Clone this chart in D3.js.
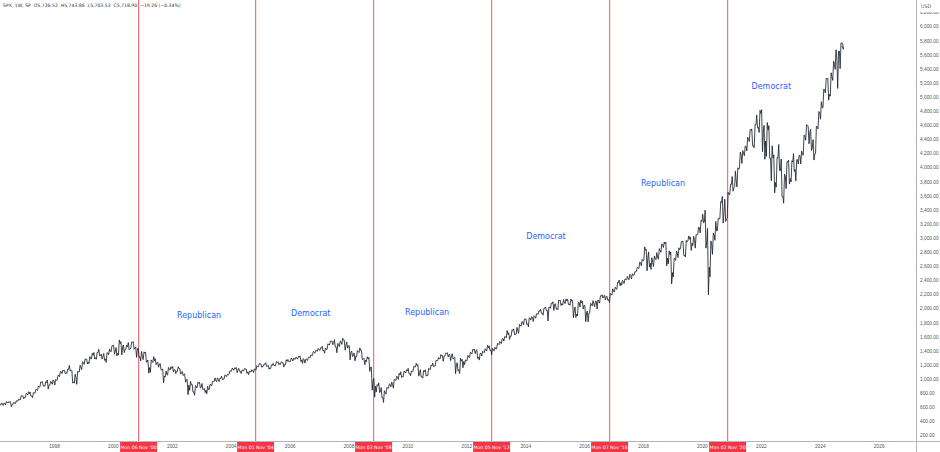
<!DOCTYPE html>
<html>
<head>
<meta charset="utf-8">
<script src="https://cdn.jsdelivr.net/npm/d3@7"></script>
<style>
  body { margin: 0; background: #fff; }
  svg { display: block; font-family: "DejaVu Sans", sans-serif; }
</style>
</head>
<body>
<svg width="940" height="452"></svg>
<script>
'use strict'

// monthly S&P 500 bars, Jan 1996 .. Oct 2024 (last one partial)
const firstMonth = '1996-01'
const firstOpen = 616
const closes = [
  636, 640, 645, 654, 669, 671, 640, 652, 687, 705, 757, 741,
  786, 791, 757, 801, 848, 885, 954, 899, 947, 915, 955, 970,
  980, 1049, 1102, 1112, 1091, 1134, 1121, 957, 1017, 1099, 1164, 1229,
  1280, 1238, 1286, 1335, 1302, 1373, 1329, 1320, 1283, 1363, 1389, 1469,
  1394, 1366, 1499, 1452, 1421, 1455, 1431, 1518, 1437, 1429, 1315, 1320,
  1366, 1240, 1160, 1249, 1256, 1224, 1211, 1134, 1041, 1060, 1139, 1148,
  1130, 1107, 1147, 1077, 1067, 990, 912, 916, 815, 886, 936, 880,
  856, 841, 848, 917, 964, 975, 990, 1008, 996, 1051, 1058, 1112,
  1131, 1145, 1126, 1107, 1121, 1141, 1102, 1104, 1115, 1130, 1174, 1212,
  1181, 1204, 1181, 1157, 1192, 1191, 1234, 1220, 1229, 1207, 1249, 1248,
  1280, 1281, 1295, 1311, 1270, 1270, 1277, 1304, 1336, 1378, 1401, 1418,
  1438, 1407, 1421, 1482, 1531, 1503, 1455, 1474, 1527, 1549, 1481, 1468,
  1379, 1331, 1323, 1386, 1400, 1280, 1267, 1283, 1165, 969, 896, 903,
  826, 735, 798, 873, 919, 919, 987, 1021, 1057, 1036, 1096, 1115,
  1074, 1104, 1169, 1187, 1089, 1031, 1102, 1049, 1141, 1183, 1181, 1258,
  1286, 1327, 1326, 1364, 1345, 1321, 1292, 1219, 1131, 1253, 1247, 1258,
  1312, 1366, 1408, 1398, 1310, 1362, 1379, 1407, 1441, 1412, 1416, 1426,
  1498, 1515, 1569, 1598, 1631, 1606, 1686, 1633, 1682, 1757, 1806, 1848,
  1783, 1859, 1872, 1884, 1924, 1960, 1931, 2003, 1972, 2018, 2068, 2059,
  1995, 2105, 2068, 2086, 2107, 2063, 2104, 1972, 1920, 2079, 2080, 2044,
  1940, 1932, 2060, 2065, 2097, 2099, 2174, 2171, 2168, 2126, 2199, 2239,
  2279, 2364, 2363, 2384, 2412, 2423, 2470, 2472, 2519, 2575, 2648, 2674,
  2824, 2714, 2641, 2648, 2705, 2718, 2816, 2902, 2914, 2712, 2760, 2507,
  2704, 2784, 2834, 2946, 2752, 2942, 2980, 2926, 2977, 3038, 3141, 3231,
  3226, 2954, 2585, 2912, 3044, 3100, 3271, 3500, 3363, 3270, 3622, 3756,
  3714, 3811, 3973, 4181, 4204, 4298, 4395, 4523, 4308, 4605, 4567, 4766,
  4516, 4374, 4530, 4132, 4132, 3785, 4130, 3955, 3586, 3872, 4080, 3840,
  4077, 3970, 4109, 4169, 4180, 4450, 4589, 4508, 4288, 4194, 4568, 4770,
  4846, 5096, 5254, 5036, 5278, 5460, 5522, 5648, 5762, 5719
]
const lows = [
  597, 631, 627, 624, 630, 658, 605, 640, 650, 684, 703, 716,
  737, 773, 756, 733, 798, 836, 884, 899, 896, 855, 912, 924,
  912, 980, 1032, 1076, 1074, 1077, 1112, 940, 939, 923, 1097, 1131,
  1205, 1212, 1216, 1282, 1281, 1279, 1325, 1281, 1263, 1233, 1343, 1387,
  1350, 1326, 1339, 1339, 1373, 1421, 1413, 1430, 1419, 1305, 1307, 1254,
  1274, 1238, 1081, 1092, 1232, 1203, 1165, 1124, 945, 1026, 1054, 1124,
  1100, 1075, 1106, 1070, 1048, 953, 775, 837, 815, 768, 873, 870,
  845, 806, 789, 847, 902, 963, 960, 960, 990, 996, 1031, 1061,
  1109, 1124, 1088, 1107, 1076, 1114, 1078, 1060, 1098, 1090, 1127, 1173,
  1163, 1180, 1176, 1137, 1146, 1188, 1183, 1201, 1205, 1168, 1201, 1245,
  1245, 1253, 1277, 1280, 1245, 1219, 1224, 1261, 1298, 1331, 1364, 1391,
  1403, 1396, 1364, 1416, 1482, 1484, 1454, 1371, 1457, 1489, 1407, 1436,
  1270, 1317, 1257, 1313, 1373, 1273, 1200, 1247, 1106, 840, 741, 815,
  805, 731, 667, 784, 866, 888, 869, 978, 992, 1020, 1029, 1085,
  1071, 1045, 1105, 1170, 1040, 1028, 1011, 1040, 1048, 1131, 1173, 1181,
  1257, 1283, 1249, 1321, 1311, 1259, 1282, 1074, 1114, 1075, 1158, 1202,
  1258, 1300, 1354, 1358, 1291, 1267, 1325, 1372, 1396, 1403, 1343, 1398,
  1426, 1485, 1501, 1536, 1582, 1560, 1604, 1627, 1633, 1646, 1747, 1768,
  1770, 1737, 1834, 1814, 1860, 1915, 1930, 1905, 1965, 1821, 2001, 1972,
  1988, 1981, 2040, 2048, 2067, 2056, 2044, 1867, 1872, 1893, 2019, 1993,
  1812, 1810, 1937, 2034, 2025, 1992, 2075, 2147, 2119, 2114, 2084, 2188,
  2234, 2271, 2322, 2329, 2353, 2405, 2407, 2417, 2468, 2521, 2566, 2605,
  2682, 2533, 2586, 2553, 2595, 2691, 2698, 2796, 2864, 2604, 2631, 2347,
  2444, 2681, 2722, 2848, 2750, 2729, 2952, 2822, 2891, 2855, 3050, 3070,
  3214, 2855, 2192, 2448, 2766, 2966, 3101, 3272, 3210, 3233, 3279, 3610,
  3662, 3725, 3723, 3992, 4056, 4165, 4233, 4368, 4306, 4279, 4560, 4495,
  4223, 4115, 4157, 4129, 3811, 3637, 3721, 3954, 3584, 3492, 3698, 3764,
  3795, 3943, 3809, 4048, 4048, 4173, 4385, 4335, 4238, 4104, 4197, 4547,
  4683, 4845, 5057, 4954, 5012, 5234, 5390, 5120, 5402, 5674
]
const highs = [
  639, 664, 660, 656, 681, 680, 675, 669, 690, 714, 762, 761,
  795, 818, 815, 805, 851, 899, 957, 961, 960, 983, 963, 986,
  992, 1051, 1106, 1124, 1122, 1139, 1191, 1121, 1066, 1106, 1193, 1244,
  1280, 1281, 1317, 1362, 1376, 1377, 1420, 1351, 1361, 1373, 1425, 1473,
  1479, 1445, 1553, 1528, 1481, 1478, 1517, 1525, 1530, 1455, 1437, 1390,
  1384, 1377, 1268, 1269, 1316, 1287, 1239, 1218, 1141, 1111, 1163, 1173,
  1176, 1131, 1173, 1148, 1106, 1070, 994, 965, 925, 907, 951, 954,
  935, 864, 895, 924, 965, 1015, 1015, 1011, 1040, 1054, 1063, 1112,
  1155, 1159, 1163, 1150, 1127, 1146, 1142, 1109, 1131, 1142, 1188, 1217,
  1212, 1213, 1229, 1192, 1199, 1219, 1246, 1245, 1243, 1233, 1271, 1276,
  1295, 1297, 1310, 1318, 1326, 1287, 1280, 1307, 1340, 1389, 1407, 1432,
  1441, 1462, 1438, 1498, 1535, 1540, 1556, 1504, 1538, 1576, 1550, 1524,
  1471, 1396, 1368, 1404, 1440, 1404, 1292, 1314, 1305, 1167, 1007, 919,
  944, 877, 833, 877, 930, 956, 993, 1039, 1080, 1101, 1111, 1130,
  1150, 1112, 1180, 1220, 1203, 1131, 1120, 1129, 1150, 1196, 1227, 1263,
  1303, 1345, 1333, 1367, 1371, 1346, 1357, 1307, 1230, 1293, 1277, 1270,
  1333, 1378, 1420, 1422, 1415, 1364, 1392, 1427, 1475, 1470, 1434, 1448,
  1504, 1531, 1570, 1598, 1687, 1654, 1698, 1710, 1730, 1776, 1813, 1849,
  1851, 1867, 1884, 1897, 1925, 1968, 1991, 2005, 2019, 2019, 2075, 2094,
  2065, 2119, 2117, 2126, 2135, 2130, 2133, 2112, 2021, 2094, 2116, 2104,
  2038, 1962, 2073, 2111, 2103, 2120, 2178, 2194, 2188, 2170, 2214, 2278,
  2301, 2371, 2401, 2398, 2418, 2454, 2484, 2491, 2519, 2582, 2657, 2695,
  2873, 2835, 2801, 2718, 2742, 2791, 2848, 2917, 2941, 2940, 2816, 2800,
  2708, 2813, 2860, 2950, 2955, 2965, 3028, 3014, 3022, 3050, 3154, 3248,
  3338, 3394, 3136, 2955, 3068, 3233, 3280, 3514, 3588, 3550, 3646, 3760,
  3870, 3950, 3994, 4218, 4238, 4302, 4429, 4537, 4546, 4608, 4744, 4808,
  4819, 4596, 4637, 4593, 4307, 4177, 4140, 4325, 4119, 3905, 4080, 4101,
  4095, 4195, 4110, 4170, 4231, 4458, 4607, 4584, 4541, 4394, 4587, 4793,
  4932, 5111, 5265, 5264, 5342, 5506, 5669, 5651, 5768, 5757
]

const yearTicks = [1998, 2000, 2002, 2004, 2006, 2008, 2010, 2012, 2014, 2016, 2018, 2020, 2022, 2024, 2026]
const priceTicks = [200, 400, 600, 800, 1000, 1200, 1400, 1600, 1800, 2000, 2200, 2400, 2600, 2800, 3000,
  3200, 3400, 3600, 3800, 4000, 4200, 4400, 4600, 4800, 5000, 5200, 5400, 5600, 5800, 6000, 6200]

const elections = ['2000-11-06', '2004-11-01', '2008-11-03', '2012-11-05', '2016-11-07', '2020-11-02']
const electionLabels = ["Mon 06 Nov '00", "Mon 01 Nov '04", "Mon 03 Nov '08", "Mon 05 Nov '12", "Mon 07 Nov '16", "Mon 02 Nov '20"]

const parties = ['Republican', 'Democrat', 'Republican', 'Democrat', 'Republican', 'Democrat']
const partyDates = ['2002-12-05', '2006-09-20', '2010-09-01', '2014-09-15', '2018-09-05', '2022-05-10']
const partyLevels = [1910, 1925, 1940, 3030, 3770, 5150]

const header = 'SPX, 1W, SP  O5,726.52  H5,743.86  L5,703.53  C5,718.90  \u221219.26 (\u22120.34%)'

const svg = d3.select('body svg')
const parseDay = d3.timeParse('%Y-%m-%d')
const parseMonth = d3.timeParse('%Y-%m')

const plotRight = 916
const plotBottom = 441

const xScale = d3.scaleTime()
  .domain([new Date(1998, 0, 1), new Date(2026, 0, 1)])
  .range([54, 878.7])
const yScale = d3.scaleLinear().domain([200, 6000]).range([435.3, 26.4])

// build a jagged open-low-high-close path per month
const start = parseMonth(firstMonth)
let points = []
let open = firstOpen
closes.forEach((close, i) => {
  const m0 = d3.timeMonth.offset(start, i)
  const m1 = d3.timeMonth.offset(start, i + 1)
  const span = m1 - m0
  const t1 = new Date(+m0 + span * 0.3)
  const t2 = new Date(+m0 + span * 0.65)
  if (close >= open) {
    points.push([t1, lows[i]], [t2, highs[i]])
  } else {
    points.push([t1, highs[i]], [t2, lows[i]])
  }
  points.push([m1, close])
  open = close
})
// last bar only covers the first days of October
points[points.length - 1][0] = new Date(2024, 9, 4)

svg.append('clipPath').attr('id', 'plot')
  .append('rect').attr('x', 0).attr('y', 0).attr('width', plotRight).attr('height', plotBottom)

// axes frame
svg.append('line')
  .attr('x1', 0).attr('x2', 940).attr('y1', plotBottom + 0.5).attr('y2', plotBottom + 0.5)
  .style('stroke', '#b2b5be')
svg.append('line')
  .attr('x1', plotRight + 0.5).attr('x2', plotRight + 0.5).attr('y1', 0).attr('y2', 452)
  .style('stroke', '#b2b5be')

// price axis
const yAxis = d3.axisRight(yScale)
  .tickValues(priceTicks)
  .tickFormat(d3.format(',.2f'))
  .tickSize(0)
  .tickPadding(4)
const yG = svg.append('g').classed('yAxis', true)
  .attr('transform', `translate(${plotRight}, 0)`)
  .call(yAxis)
yG.select('path.domain').remove()
yG.selectAll('text').style('font-size', '4.8px').style('fill', '#555')

// time axis
const xAxis = d3.axisBottom(xScale)
  .tickValues(yearTicks.map((y) => new Date(y, 0, 1)))
  .tickFormat(d3.timeFormat('%Y'))
  .tickSize(0)
  .tickPadding(4)
const xG = svg.append('g').classed('xAxis', true)
  .attr('transform', `translate(0, ${plotBottom})`)
  .call(xAxis)
xG.select('path.domain').remove()
xG.selectAll('text').style('font-size', '4.8px').style('fill', '#555')

// election lines, drawn under the price
svg.selectAll('rect.election')
  .data(elections)
  .enter()
  .append('rect').classed('election', true)
  .attr('x', (d) => Math.round(xScale(parseDay(d))))
  .attr('y', 0)
  .attr('width', 1.2)
  .attr('height', plotBottom)
  .style('fill', '#f5707b')

// price line
const line = d3.line().x((d) => xScale(d[0])).y((d) => yScale(d[1]))
svg.append('path')
  .datum(points)
  .attr('clip-path', 'url(#plot)')
  .attr('d', line)
  .style('fill', 'none')
  .style('stroke', '#1e222d')
  .style('stroke-width', '0.85')
  .style('stroke-linejoin', 'miter')

// party labels
svg.selectAll('text.party')
  .data(parties)
  .enter()
  .append('text').classed('party', true)
  .attr('x', (d, i) => xScale(parseDay(partyDates[i])))
  .attr('y', (d, i) => yScale(partyLevels[i]))
  .attr('text-anchor', 'middle')
  .attr('dy', '0.35em')
  .style('font-size', '8px')
  .style('fill', '#2962ff')
  .text((d) => d)

// election date badges on the time axis
const badges = svg.selectAll('g.badge')
  .data(elections)
  .enter()
  .append('g').classed('badge', true)
  .attr('transform', (d) => `translate(${Math.round(xScale(parseDay(d))) + 0.6}, ${plotBottom + 1})`)
badges.append('rect')
  .attr('x', -18.5).attr('y', 0).attr('width', 37).attr('height', 11)
  .style('fill', '#f23645')
badges.append('text')
  .attr('y', 7.2)
  .attr('text-anchor', 'middle')
  .style('font-size', '4.6px')
  .style('fill', '#fff')
  .text((d, i) => electionLabels[i])

// currency tag and legend header
svg.append('rect')
  .attr('x', plotRight + 1).attr('y', 0).attr('width', 23).attr('height', 12)
  .style('fill', '#fff')
svg.append('text')
  .attr('x', 921).attr('y', 8)
  .style('font-size', '4.8px').style('fill', '#555')
  .text('USD')
svg.append('text')
  .attr('x', 3).attr('y', 7)
  .attr('xml:space', 'preserve')
  .style('font-size', '4.6px').style('fill', '#333')
  .text(header)
</script>
</body>
</html>
